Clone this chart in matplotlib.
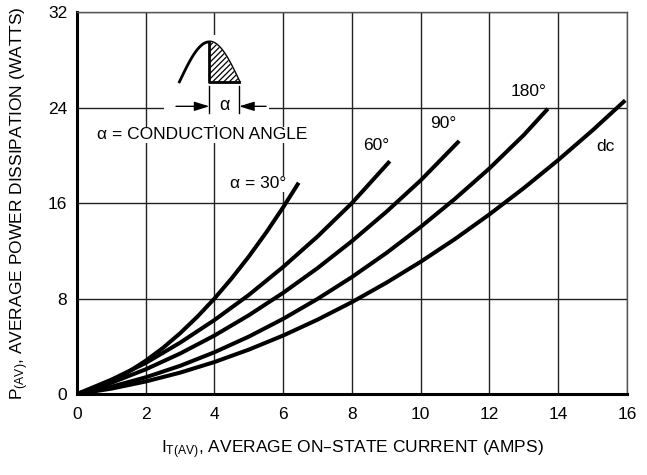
import numpy as np
import matplotlib
matplotlib.use('Agg')
import matplotlib.pyplot as plt
from matplotlib.patches import Rectangle

plt.rcParams['font.family'] = ['Liberation Sans', 'DejaVu Sans']
plt.rcParams['mathtext.default'] = 'regular'
plt.rcParams['hatch.linewidth'] = 0.9

# values (I_T(AV) in amps, P(AV) in watts)
x_30 = [0, 0.5, 1, 1.5, 2, 2.5, 3, 3.5, 4, 4.5, 5, 5.5, 6, 6.45]
p_30 = [0, 0.47, 1.09, 1.86, 2.79, 3.86, 5.09, 6.47, 8.0, 9.69, 11.52, 13.51, 15.65, 17.7]

x_60 = [0, 1, 2, 3, 4, 5, 6, 7, 8, 9.1]
p_60 = [0, 1.2, 2.6, 4.3, 6.2, 8.3, 10.65, 13.2, 16.0, 19.5]

x_90 = [0, 1, 2, 3, 4, 5, 6, 7, 8, 9, 10, 11.12]
p_90 = [0, 0.94, 2.07, 3.39, 4.9, 6.6, 8.48, 10.55, 12.81, 15.26, 17.9, 21.2]

x_180 = [0, 1, 2, 3, 4, 5, 6, 7, 8, 9, 10, 11, 12, 13, 13.7]
p_180 = [0, 0.61, 1.4, 2.36, 3.5, 4.81, 6.3, 7.97, 9.8, 11.81, 14.0, 16.36, 18.9, 21.7, 23.9]

x_dc = [0, 1, 2, 3, 4, 5, 6, 7, 8, 9, 10, 11, 12, 13, 14, 15, 15.95]
p_dc = [0, 0.45, 1.05, 1.79, 2.68, 3.72, 4.9, 6.23, 7.7, 9.32, 11.08, 12.99, 15.05, 17.25, 19.6, 22.09, 24.6]

curves = [(x_30, p_30), (x_60, p_60), (x_90, p_90), (x_180, p_180), (x_dc, p_dc)]
labels = ['\u03b1 = 30\u00b0', '60\u00b0', '90\u00b0', '180\u00b0', 'dc']
label_pos = [(5.27, 17.6), (8.7, 20.85), (10.65, 22.7), (13.15, 25.3), (15.37, 20.7)]

xticks = [0, 2, 4, 6, 8, 10, 12, 14, 16]
yticks = [0, 8, 16, 24, 32]

fig = plt.figure(figsize=(6.47, 4.75), dpi=100)
ax = fig.add_axes([0.119, 0.1705, 0.85, 0.9747 - 0.1705])

for x, p in curves:
    ax.plot(x, p, color='black', lw=2.9, solid_capstyle='butt',
            solid_joinstyle='round', zorder=4)

for txt, (lx, ly) in zip(labels, label_pos):
    ax.text(lx, ly, txt, fontsize=12.5, ha='center', va='center', zorder=5,
            bbox=dict(facecolor='white', edgecolor='none', pad=0.5))

ax.set_xlim(0, 16)
ax.set_ylim(0, 32)
ax.set_xticks(xticks)
ax.set_yticks(yticks)
ax.tick_params(length=0, labelsize=12.5)
ax.tick_params(axis='x', pad=9)
ax.tick_params(axis='y', pad=7)
ax.grid(True, color='#222222', lw=1.0)
ax.set_axisbelow(True)
for side in ['top', 'right']:
    ax.spines[side].set_color('#555555')
    ax.spines[side].set_linewidth(1.0)
for side in ['left', 'bottom']:
    ax.spines[side].set_linewidth(2.2)

ax.set_xlabel('$I_{T(AV)}$, AVERAGE ON\u2013STATE CURRENT (AMPS)', fontsize=12.5, labelpad=12)
ax.set_ylabel('$P_{(AV)}$, AVERAGE POWER DISSIPATION (WATTS)', fontsize=12.5, labelpad=12)

# conduction angle sketch
ax.add_patch(Rectangle((2.53, 22.5), 3.06, 7.6, facecolor='white',
                       edgecolor='none', zorder=2))
x0, x1, base, peak = 2.98, 4.72, 26.15, 29.5
xm = (x0 + x1) / 2
t = np.linspace(0, np.pi, 100)
xs = x0 + (x1 - x0) * t / np.pi
ys = base + (peak - base) * np.sin(t)
ax.plot(xs, ys, color='black', lw=2.0, zorder=3)
half = xs >= xm
ax.fill_between(xs[half], base, ys[half], facecolor='white', edgecolor='black',
                hatch='//////', lw=0, zorder=3)
ax.plot([xm, xm, x1], [ys[half][0], base, base], color='black', lw=2.0, zorder=3)
ax.plot([xm, xm], [23.5, 25.8], color='black', lw=1.0, zorder=3)
ax.plot([x1, x1], [23.5, 25.8], color='black', lw=1.0, zorder=3)
arrow = dict(arrowstyle='-|>,head_length=0.9,head_width=0.28', color='black',
             lw=1.0, shrinkA=0, shrinkB=0)
ax.annotate('', xy=(xm, 24.1), xytext=(2.88, 24.1), arrowprops=arrow, zorder=3)
ax.annotate('', xy=(x1, 24.1), xytext=(5.5, 24.1), arrowprops=arrow, zorder=3)
ax.text((xm + x1) / 2, 24.2, '\u03b1', fontsize=13, ha='center', va='center', zorder=3)
ax.text(3.64, 21.7, '\u03b1 = CONDUCTION ANGLE', fontsize=12.5, ha='center', va='center',
        zorder=3, bbox=dict(facecolor='white', edgecolor='none', pad=0.5))

fig.savefig('out.png', dpi=100)
